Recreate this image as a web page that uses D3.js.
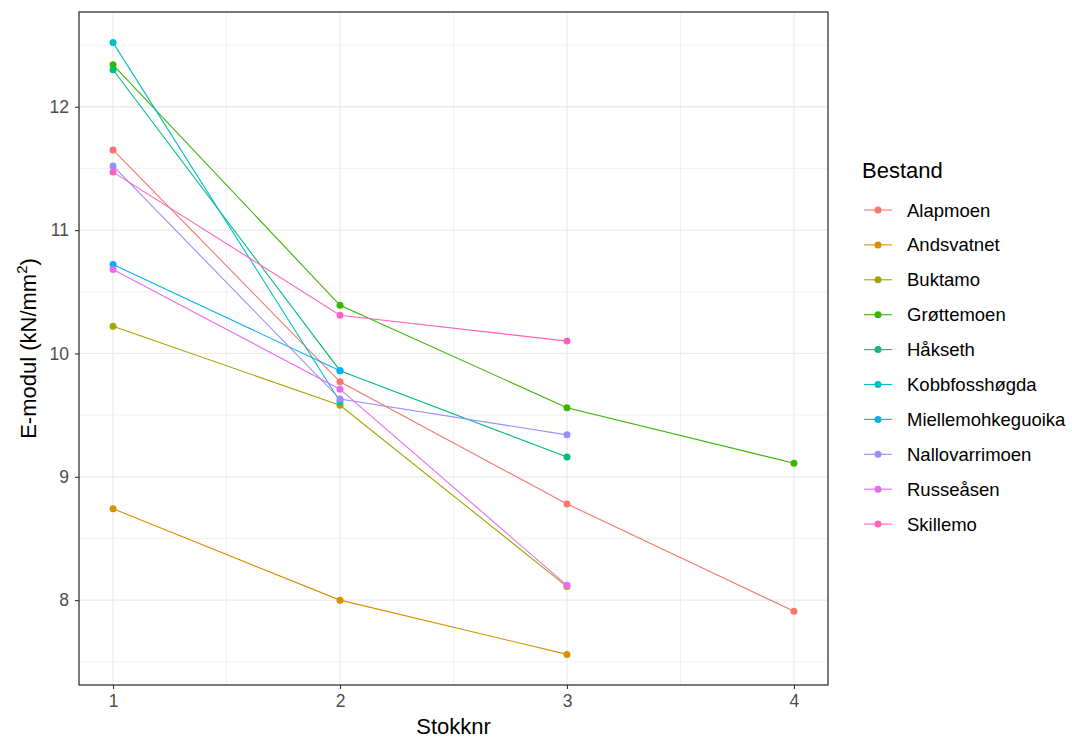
<!DOCTYPE html>
<html>
<head>
<meta charset="utf-8">
<script src="https://cdn.jsdelivr.net/npm/d3@7"></script>
<style>
  body { margin: 0; background: #fff; }
  text { font-family: "Liberation Sans", Arial, sans-serif; }
</style>
</head>
<body>
<div id="chart"></div>
<script>
// E-modul per stokk, one series per bestand
var bestand = ["Alapmoen", "Andsvatnet", "Buktamo", "Grøttemoen", "Håkseth",
    "Kobbfosshøgda", "Miellemohkeguoika", "Nallovarrimoen", "Russeåsen", "Skillemo"];
var colours = ["#F8766D", "#D89000", "#A3A500", "#39B600", "#00BF7D",
    "#00BFC4", "#00B0F6", "#9590FF", "#E76BF3", "#FF62BC"];
var emodul = [
    [11.65, 9.77, 8.78, 7.91],
    [8.74, 8.00, 7.56],
    [10.22, 9.58, 8.11],
    [12.34, 10.39, 9.56, 9.11],
    [12.30, 9.86, 9.16],
    [12.52, 9.61],
    [10.72, 9.86],
    [11.52, 9.63, 9.34],
    [10.68, 9.71, 8.12],
    [11.47, 10.31, 10.10]
];
var xTicks = [1, 2, 3, 4];
var yTicks = [8, 9, 10, 11, 12];
var xMinor = [1.5, 2.5, 3.5];
var yMinor = [7.5, 8.5, 9.5, 10.5, 11.5, 12.5];

var W = 1072, H = 740;
var margin = { top: 12, right: 244, bottom: 55, left: 79 };
var width = W - margin.left - margin.right;
var height = H - margin.top - margin.bottom;

var svg = d3.select("#chart").append("svg")
    .attr("width", W)
    .attr("height", H);

var g = svg.append("g")
    .attr("transform", "translate(" + margin.left + "," + margin.top + ")");

var series = bestand.map(function(name, i) {
    return {
        name: name,
        colour: colours[i],
        values: emodul[i].map(function(v, j) { return { stokk: j + 1, e: v }; })
    };
});

var allVals = d3.merge(emodul);
var yMin = d3.min(allVals), yMax = d3.max(allVals);
var yPad = (yMax - yMin) * 0.05;

var x_scale = d3.scaleLinear()
    .domain([1 - 0.15, 4 + 0.15])
    .range([0, width]);

var y_scale = d3.scaleLinear()
    .domain([yMin - yPad, yMax + yPad])
    .range([height, 0]);

// grid
g.selectAll(".minor-y").data(yMinor).enter().append("line")
    .attr("x1", 0).attr("x2", width)
    .attr("y1", function(d) { return y_scale(d); })
    .attr("y2", function(d) { return y_scale(d); })
    .style("stroke", "#EBEBEB").style("stroke-width", 0.7);
g.selectAll(".minor-x").data(xMinor).enter().append("line")
    .attr("y1", 0).attr("y2", height)
    .attr("x1", function(d) { return x_scale(d); })
    .attr("x2", function(d) { return x_scale(d); })
    .style("stroke", "#EBEBEB").style("stroke-width", 0.7);
g.selectAll(".major-y").data(yTicks).enter().append("line")
    .attr("x1", 0).attr("x2", width)
    .attr("y1", function(d) { return y_scale(d); })
    .attr("y2", function(d) { return y_scale(d); })
    .style("stroke", "#EBEBEB").style("stroke-width", 1.3);
g.selectAll(".major-x").data(xTicks).enter().append("line")
    .attr("y1", 0).attr("y2", height)
    .attr("x1", function(d) { return x_scale(d); })
    .attr("x2", function(d) { return x_scale(d); })
    .style("stroke", "#EBEBEB").style("stroke-width", 1.3);

// lines + points
var line = d3.line()
    .x(function(d) { return x_scale(d.stokk); })
    .y(function(d) { return y_scale(d.e); });

var sg = g.selectAll(".series").data(series).enter().append("g");

sg.append("path")
    .attr("d", function(d) { return line(d.values); })
    .style("fill", "none")
    .style("stroke", function(d) { return d.colour; })
    .style("stroke-width", 1.1);

sg.selectAll("circle")
    .data(function(d) { return d.values.map(function(v) { return { v: v, c: d.colour }; }); })
    .enter().append("circle")
    .attr("cx", function(d) { return x_scale(d.v.stokk); })
    .attr("cy", function(d) { return y_scale(d.v.e); })
    .attr("r", 3.5)
    .style("fill", function(d) { return d.c; });

// panel border
g.append("rect")
    .attr("width", width).attr("height", height)
    .style("fill", "none")
    .style("stroke", "#333333")
    .style("stroke-width", 1.3);

// axes
var xAxis = g.append("g")
    .attr("transform", "translate(0," + height + ")")
    .call(d3.axisBottom(x_scale).tickValues(xTicks).tickFormat(d3.format("d")).tickSize(4).tickPadding(6));
var yAxis = g.append("g")
    .call(d3.axisLeft(y_scale).tickValues(yTicks).tickFormat(d3.format("d")).tickSize(4).tickPadding(6));

[xAxis, yAxis].forEach(function(a) {
    a.select(".domain").remove();
    a.selectAll(".tick line").style("stroke", "#333333").style("stroke-width", 1.1);
    a.selectAll(".tick text")
        .style("fill", "#4D4D4D")
        .style("font-size", "17.5px")
        .style("font-family", "'Liberation Sans', Arial, sans-serif");
});

// axis titles
svg.append("text")
    .attr("x", margin.left + width / 2)
    .attr("y", 734)
    .attr("text-anchor", "middle")
    .style("font-size", "22px")
    .style("fill", "#000")
    .text("Stokknr");

var yTitle = svg.append("text")
    .attr("text-anchor", "middle")
    .attr("transform", "translate(" + 36 + "," + (margin.top + height / 2) + ")rotate(-90)")
    .style("font-size", "22px")
    .style("fill", "#000");
yTitle.append("tspan").text("E-modul (kN/mm");
yTitle.append("tspan").attr("dy", -9).style("font-size", "15px").text("2");
yTitle.append("tspan").attr("dy", 9).text(")");

// legend
var legend = svg.append("g").attr("transform", "translate(862,0)");
legend.append("text")
    .attr("x", 0).attr("y", 178)
    .style("font-size", "22px")
    .style("fill", "#000")
    .text("Bestand");

var item = legend.selectAll(".item").data(series).enter().append("g")
    .attr("transform", function(d, i) { return "translate(0," + (210 + i * 34.9) + ")"; });
item.append("line")
    .attr("x1", 2).attr("x2", 30)
    .style("stroke", function(d) { return d.colour; })
    .style("stroke-width", 1.1);
item.append("circle")
    .attr("cx", 16).attr("r", 3.5)
    .style("fill", function(d) { return d.colour; });
item.append("text")
    .attr("x", 45).attr("y", 6.5)
    .style("font-size", "18.5px")
    .style("fill", "#000")
    .text(function(d) { return d.name; });
</script>
</body>
</html>
